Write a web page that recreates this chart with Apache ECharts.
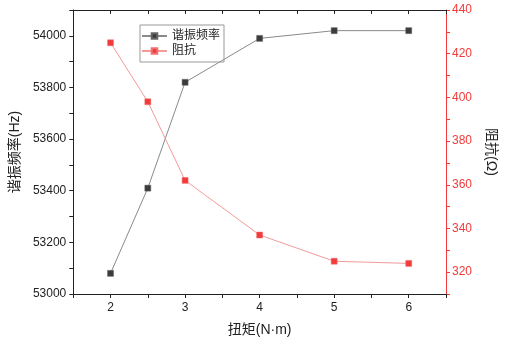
<!DOCTYPE html>
<html>
<head>
<meta charset="utf-8">
<script src="https://cdn.jsdelivr.net/npm/echarts@6/dist/echarts.min.js"></script>
<style>
html, body { margin: 0; padding: 0; background: #fff; }
#chart { width: 506px; height: 344px; }
</style>
</head>
<body>
<div id="chart"></div>
<script>
// torque (N·m)
var torque = [2, 2.5, 3, 4, 5, 6]
// resonant frequency (Hz)
var freq = [53080, 53410, 53820, 53990, 54020, 54020]
// impedance (Ω)
var impedance = [425, 398, 362, 337, 325, 324]

var font = '"Liberation Sans", Arial, sans-serif'
var cjk = '"Liberation Sans", "Noto Sans CJK SC", sans-serif'

function pairs(xs, ys) {
    var out = []
    for (var i = 0; i < xs.length; i++) {
        out.push([xs[i], ys[i]])
    }
    return out
}

var option = {
    animation: false,
    backgroundColor: '#fff',
    grid: {
        left: 71,
        right: 54,
        top: 10,
        bottom: 50,
    },
    legend: {
        orient: 'vertical',
        left: 140,
        top: 25,
        itemWidth: 25,
        itemHeight: 7,
        itemGap: 3,
        padding: [5, 4, 5, 1],
        borderColor: '#999',
        borderWidth: 1,
        textStyle: { fontFamily: cjk, fontSize: 12, lineHeight: 12, color: '#222' },
        data: ['谐振频率', '阻抗'],
    },
    xAxis: [
        {
            type: 'value',
            min: 1.5,
            max: 6.5,
            interval: 0.5,
            name: '扭矩(N·m)',
            nameLocation: 'middle',
            nameGap: 29,
            nameTextStyle: { fontFamily: cjk, fontSize: 14, color: '#222' },
            axisLine: { show: true, lineStyle: { color: '#222', width: 1 } },
            axisTick: { show: true, length: 4, lineStyle: { color: '#222' } },
            axisLabel: {
                fontFamily: font, fontSize: 12, color: '#222', margin: 8,
                formatter: function (v) { return v % 1 === 0 ? String(v) : '' }
            },
            splitLine: { show: false },
        },
        {
            type: 'value',
            position: 'top',
            min: 1.5,
            max: 6.5,
            interval: 0.5,
            axisLine: { show: true, lineStyle: { color: '#222', width: 1 } },
            axisTick: { show: true, inside: true, length: 4, lineStyle: { color: '#222' } },
            axisLabel: { show: false },
            splitLine: { show: false },
        },
    ],
    yAxis: [
        {
            type: 'value',
            min: 53000,
            max: 54100,
            interval: 100,
            name: '谐振频率(Hz)',
            nameLocation: 'middle',
            nameRotate: 90,
            nameGap: 48,
            nameTextStyle: { fontFamily: cjk, fontSize: 14, color: '#222' },
            axisLine: { show: true, lineStyle: { color: '#222', width: 1 } },
            axisTick: { show: true, length: 4, lineStyle: { color: '#222' } },
            axisLabel: {
                fontFamily: font, fontSize: 12, color: '#222', margin: 7,
                formatter: function (v) { return v % 200 === 0 ? String(v) : '' }
            },
            splitLine: { show: false },
        },
        {
            type: 'value',
            min: 310,
            max: 440,
            interval: 10,
            position: 'right',
            name: '阻抗(Ω)',
            nameLocation: 'middle',
            nameRotate: -90,
            nameGap: 38,
            nameTextStyle: { fontFamily: cjk, fontSize: 14, color: '#222' },
            axisLine: { show: true, lineStyle: { color: '#f23a3a', width: 1 } },
            axisTick: { show: true, length: 4, lineStyle: { color: '#f23a3a' } },
            axisLabel: {
                fontFamily: font, fontSize: 12, color: '#f23a3a', margin: 6,
                formatter: function (v) { return v % 20 === 0 ? String(v) : '' }
            },
            splitLine: { show: false },
        },
    ],
    series: [
        {
            name: '谐振频率',
            type: 'line',
            xAxisIndex: 0,
            yAxisIndex: 0,
            symbol: 'rect',
            symbolSize: 6,
            lineStyle: { color: '#8a8a8a', width: 1 },
            itemStyle: { color: '#3b3b3b', borderColor: '#666', borderWidth: 0.5 },
            data: pairs(torque, freq),
        },
        {
            name: '阻抗',
            type: 'line',
            xAxisIndex: 0,
            yAxisIndex: 1,
            symbol: 'rect',
            symbolSize: 6,
            lineStyle: { color: '#f59a9a', width: 1 },
            itemStyle: { color: '#f23a3a', borderColor: '#f57070', borderWidth: 0.5 },
            data: pairs(torque, impedance),
        },
    ],
}

var myChart = echarts.init(document.getElementById('chart'))
myChart.setOption(option, true)
</script>
</body>
</html>
